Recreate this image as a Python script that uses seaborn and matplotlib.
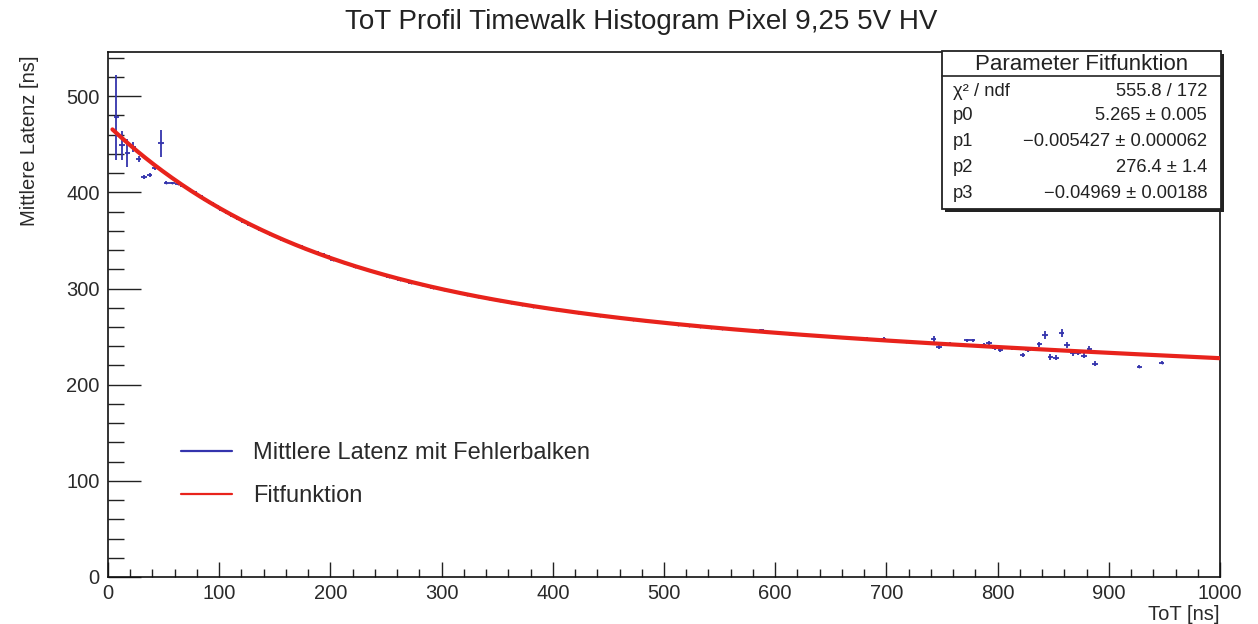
import numpy as np
import pandas as pd
import matplotlib
matplotlib.use("Agg")
import matplotlib.pyplot as plt
from matplotlib.lines import Line2D
from matplotlib.patches import Rectangle
from matplotlib.ticker import MultipleLocator
import seaborn as sns

# ---- profile data: mean latency per ToT bin ----
tot_ns = [7.5, 12.5, 17.5, 22.5, 27.5, 32.5, 37.5, 42.5, 47.5, 52.5,
          57.5, 62.5, 67.5, 72.5, 77.5, 82.5, 87.5, 92.5, 97.5, 102.5,
          107.5, 112.5, 117.5, 122.5, 127.5, 132.5, 137.5, 142.5, 147.5, 152.5,
          157.5, 162.5, 167.5, 172.5, 177.5, 182.5, 187.5, 192.5, 197.5,
          202.5, 212.5, 222.5, 232.5, 242.5, 252.5, 262.5, 272.5, 282.5, 292.5,
          302.5, 312.5, 322.5, 332.5, 342.5, 352.5, 362.5, 372.5, 382.5, 392.5,
          402.5, 412.5, 422.5, 432.5, 442.5, 452.5, 462.5, 472.5, 482.5, 492.5,
          502.5, 512.5, 522.5, 532.5, 542.5, 552.5, 562.5, 572.5,
          587.5, 597.5, 612.5, 627.5, 642.5, 657.5, 667.5, 682.5, 697.5, 707.5,
          717.5, 727.5, 737.5, 742.5, 747.5, 757.5, 767.5, 772.5, 777.5, 787.5,
          792.5, 797.5, 802.5, 812.5, 822.5, 827.5, 837.5, 842.5, 847.5, 852.5,
          857.5, 862.5, 867.5, 872.5, 877.5, 882.5, 887.5, 927.5, 947.5]

latency_ns = [478, 449, 441, 447, 435, 416, 418, 425, 451, 410,
              410, 409, 407, 404, 400, 396.5, 392.5, 389, 385.5, 382,
              378.5, 375.5, 372.5, 369.5, 366.5, 364, 361, 358.5, 356, 353.5,
              351, 348.5, 346, 344, 341.5, 339.5, 337.5, 335.5, 333.5,
              330, 326.3, 322.5, 319, 315.7, 312.3, 309.2, 306.2, 303.4, 300.9,
              298.3, 296, 293.6, 291.4, 289.2, 287, 285, 283, 281.2, 279.5,
              277.8, 276.4, 274.6, 273.2, 271.6, 270.2, 268.9, 267.6, 266.3, 265,
              263.8, 262.6, 261.4, 260.4, 259.4, 258.4, 257.5, 256.4,
              256.5, 254.5, 253.2, 252, 250.6, 249.3, 248.5, 247.6, 247.5, 245.2,
              244.6, 243.9, 243.3, 247.5, 239, 242.2, 241.6, 246, 246, 241,
              243.5, 238, 236.5, 238.5, 231, 236, 242, 252, 229, 228,
              253.5, 241, 233, 232.5, 230, 237, 222, 218.5, 223]

latency_err = [44, 15, 15, 5, 3, 2, 2, 2, 14, 1.5,
               1, 1, 1, 1, 1, 1, 1, 1, 1, 1,
               1, 1, 1, 1, 1, 1, 1, 1, 1, 1,
               1, 1, 1, 1, 1, 1, 1, 1, 1,
               1, 1, 1, 1, 1, 1, 1, 1, 1, 1,
               1, 1, 1, 1, 1, 1, 1, 1, 1, 1,
               1, 1, 1, 1, 1, 1, 1, 1, 1, 1,
               1, 1, 1, 1, 1, 1, 1, 1,
               1.5, 1, 1, 1, 1, 1.5, 1.5, 1.5, 2, 2,
               1.5, 2, 2, 3, 2, 2, 2, 2, 2, 2,
               2, 2, 2, 2, 2, 2, 2.5, 4, 3, 2.5,
               4, 3, 3, 2, 2.5, 3, 3, 1.5, 1.5]

bin_half_width = 2.5

# ---- fit result: f(x) = exp(p0 + p1*x) + p2 + p3*x ----
p0, p0_err = 5.265, 0.005
p1, p1_err = -0.005427, 0.000062
p2, p2_err = 276.4, 1.4
p3, p3_err = -0.04969, 0.00188
chi2, ndf = 555.8, 172
fit_range = (4, 1000)

x_ticks = [0, 100, 200, 300, 400, 500, 600, 700, 800, 900, 1000]
y_ticks = [0, 100, 200, 300, 400, 500]

title = "ToT Profil Timewalk Histogram Pixel 9,25 5V HV"
stats_title = "Parameter Fitfunktion"
legend_labels = ["Mittlere Latenz mit Fehlerbalken", "Fitfunktion"]

# ---- style ----
sns.set_theme(style="white")
plt.rcParams["font.family"] = ["Liberation Sans", "DejaVu Sans"]
plt.rcParams["axes.unicode_minus"] = True

W, H = 1258, 624
fig = plt.figure(figsize=(W / 100, H / 100), dpi=100)
fig.patch.set_facecolor("white")

L, R, T, B = 108, 1220, 52, 577
ax = fig.add_axes([L / W, 1 - B / H, (R - L) / W, (B - T) / H])
ax.set_facecolor("white")

blue = "#3434ad"
red = "#e8231c"

df = pd.DataFrame({"tot": tot_ns, "lat": latency_ns, "err": latency_err})
ax.errorbar(df["tot"], df["lat"], yerr=df["err"], xerr=bin_half_width,
            fmt="none", ecolor=blue, elinewidth=1.3, capsize=0, zorder=2)
ax.scatter(df["tot"], df["lat"], s=2, color=blue, zorder=2, linewidths=0)

xf = np.linspace(fit_range[0], fit_range[1], 800)
fit_df = pd.DataFrame({"x": xf, "y": np.exp(p0 + p1 * xf) + p2 + p3 * xf})
sns.lineplot(data=fit_df, x="x", y="y", ax=ax, color=red, linewidth=3.0,
             zorder=3, legend=False)

ax.set_xlim(0, 1000)
ax.set_ylim(0, 546)
ax.set_xticks(x_ticks)
ax.set_yticks(y_ticks)
ax.xaxis.set_minor_locator(MultipleLocator(20))
ax.yaxis.set_minor_locator(MultipleLocator(20))
ax.tick_params(axis="both", which="both", direction="in", colors="#222222",
               labelcolor="#2a2a2a", labelsize=14.5, width=1.0,
               bottom=True, left=True, top=False, right=False)
ax.tick_params(axis="x", which="major", length=11, pad=5)
ax.tick_params(axis="x", which="minor", length=5.8)
ax.tick_params(axis="y", which="major", length=23.5, pad=6)
ax.tick_params(axis="y", which="minor", length=11.5)
for s in ax.spines.values():
    s.set_color("#111111")
    s.set_linewidth(1.2)
    s.set_visible(True)

ax.set_xlabel("ToT [ns]", fontsize=14.5, color="#2a2a2a", loc="right")
ax.xaxis.label.set_va("center")
ax.xaxis.set_label_coords(1.0, -(614 - B) / (B - T))
ax.set_ylabel("Mittlere Latenz [ns]", fontsize=14.5, color="#2a2a2a")
ax.yaxis.label.set_va("center")
ax.yaxis.set_label_coords((30 - L) / (R - L), (B - 141) / (B - T))

fig.text(641 / W, 1 - 22 / H, title, ha="center", va="center",
         fontsize=20, color="#222222")

# ---- legend ----
handles = [Line2D([], [], color=blue, linewidth=1.6),
           Line2D([], [], color=red, linewidth=1.6)]
ax.legend(handles, legend_labels, loc="upper left",
          bbox_to_anchor=((172 - L) / (R - L), (B - 433) / (B - T)),
          frameon=False, fontsize=17, handlelength=2.15, handletextpad=0.9,
          labelspacing=0.88, borderaxespad=0, labelcolor="#2a2a2a")

# ---- statistics box ----
def fx(px):
    return px / W

def fy(py):
    return 1 - py / H

bx0, bx1, by0, by1 = 942, 1221, 51, 209
shadow = Rectangle((fx(bx0 + 3), fy(by1 + 3)), fx(bx1 - bx0), (by1 - by0) / H,
                   transform=fig.transFigure, facecolor="#222222",
                   edgecolor="none", zorder=5)
box = Rectangle((fx(bx0), fy(by1)), fx(bx1 - bx0), (by1 - by0) / H,
                transform=fig.transFigure, facecolor="white",
                edgecolor="#222222", linewidth=1.3, zorder=6)
fig.add_artist(shadow)
fig.add_artist(box)
fig.add_artist(Line2D([fx(bx0), fx(bx1)], [fy(76), fy(76)],
                      transform=fig.transFigure, color="#222222",
                      linewidth=1.2, zorder=7))
fig.text(fx((bx0 + bx1) / 2), fy(64), stats_title, ha="center", va="center",
         fontsize=16, color="#222222", zorder=8)

rows = [("χ² / ndf", f"{chi2:.1f} / {ndf}"),
        ("p0", f"{p0:.3f} ± {p0_err:.3f}"),
        ("p1", f"{p1:.6f} ± {p1_err:.6f}".replace("-", "−")),
        ("p2", f"{p2:.1f} ± {p2_err:.1f}"),
        ("p3", f"{p3:.5f} ± {p3_err:.5f}".replace("-", "−"))]
row_y = [91, 116, 142, 168, 194]
for (name, val), ry in zip(rows, row_y):
    fig.text(fx(953), fy(ry), name, ha="left", va="center",
             fontsize=13.2, color="#222222", zorder=8)
    fig.text(fx(1207), fy(ry), val, ha="right", va="center",
             fontsize=13.2, color="#222222", zorder=8)

fig.savefig("out.png", dpi=100, facecolor="white")
